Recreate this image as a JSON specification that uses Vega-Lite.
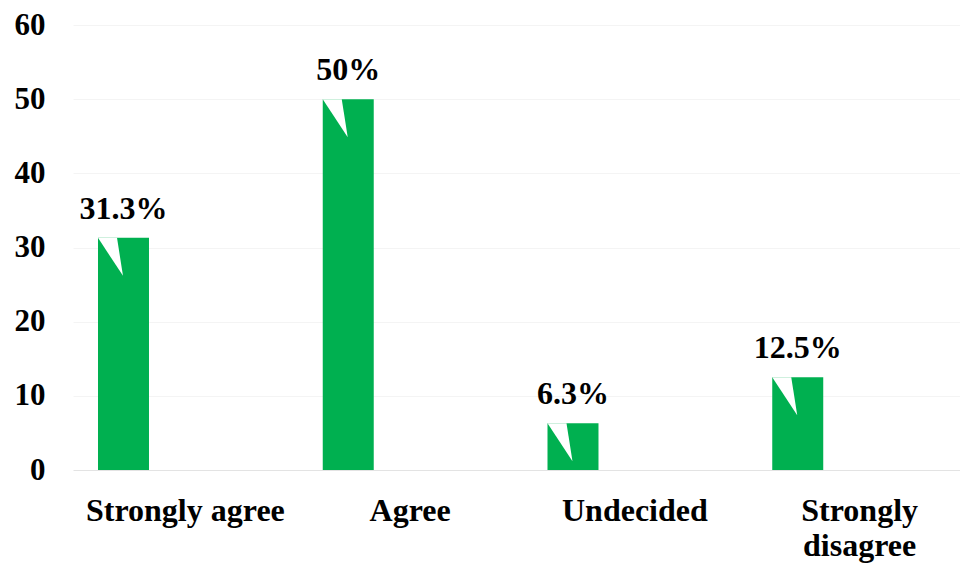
{
  "$schema": "https://vega.github.io/schema/vega-lite/v6.json",
  "width": 887,
  "height": 445,
  "autosize": {"type": "none"},
  "padding": {"left": 73, "top": 25, "right": 0, "bottom": 94},
  "background": "white",
  "config": {
    "view": {"stroke": null},
    "font": "Times New Roman, Liberation Serif, serif"
  },
  "data": {
    "values": [
      {"category": "Strongly agree", "series": "Percent", "value": 31.3, "label": "31.3%"},
      {"category": "Agree", "series": "Percent", "value": 50, "label": "50%"},
      {"category": "Undecided", "series": "Percent", "value": 6.3, "label": "6.3%"},
      {"category": "Strongly disagree", "series": "Percent", "value": 12.5, "label": "12.5%"}
    ]
  },
  "encoding": {
    "x": {
      "field": "category",
      "type": "nominal",
      "sort": null,
      "scale": {"paddingInner": 0, "paddingOuter": 0, "range": [0, 899]},
      "axis": {
        "title": null,
        "labelAngle": 0,
        "labelFont": "Times New Roman, Liberation Serif, serif",
        "labelFontWeight": "bold",
        "labelFontSize": 32,
        "labelColor": "#000000",
        "labelPadding": 25,
        "labelLimit": 0,
        "labelLineHeight": 35,
        "labelExpr": "datum.value == 'Strongly disagree' ? ['Strongly', 'disagree'] : datum.value",
        "ticks": false,
        "domain": false,
        "grid": false
      }
    },
    "xOffset": {
      "field": "series",
      "type": "nominal",
      "scale": {"domain": ["Percent", "_"], "paddingInner": 0.588, "paddingOuter": 0.202}
    },
    "y": {
      "field": "value",
      "type": "quantitative",
      "scale": {"domain": [0, 60], "nice": false, "zero": true},
      "axis": {
        "title": null,
        "values": [0, 10, 20, 30, 40, 50, 60],
        "labelFont": "Times New Roman, Liberation Serif, serif",
        "labelFontWeight": "bold",
        "labelFontSize": 31,
        "labelColor": "#000000",
        "labelPadding": 28,
        "ticks": false,
        "domain": false,
        "grid": true,
        "gridColor": {"condition": {"test": "datum.value === 0", "value": "#e3e3e3"}, "value": "#f4f4f4"},
        "gridWidth": 1
      }
    }
  },
  "layer": [
    {
      "mark": {"type": "bar", "color": "#00B050"}
    },
    {
      "mark": {
        "type": "point",
        "filled": true,
        "color": "#ffffff",
        "opacity": 1,
        "size": 2601,
        "shape": "M -1 0 L -0.255 0 L -0.02 1.49 Z"
      }
    },
    {
      "mark": {
        "type": "text",
        "font": "Times New Roman, Liberation Serif, serif",
        "fontWeight": "bold",
        "fontSize": 32,
        "color": "#000000",
        "baseline": "alphabetic",
        "align": "center",
        "dy": -19
      },
      "encoding": {"text": {"field": "label"}}
    }
  ]
}
